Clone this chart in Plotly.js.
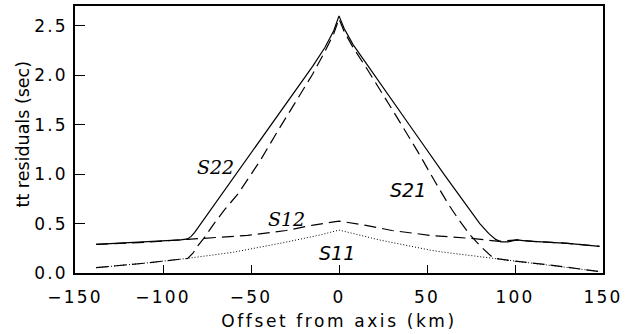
<!DOCTYPE html>
<html>
<head>
<meta charset="utf-8">
<script src="https://cdn.plot.ly/plotly-3.0.1.min.js"></script>
<style>
  html, body { margin: 0; padding: 0; background: #fff; }
  #plot { width: 625px; height: 334px; }
  #plot .xtick text, #plot .ytick text { letter-spacing: 2.2px; }
  #plot text.xtitle { letter-spacing: 2.6px; }
</style>
</head>
<body>
<div id="plot"></div>
<script>
// S22 (solid)
const s22X = [-138, -120, -100, -90, -86, -84, -82, -78, -72, -65, -55, -45, -35, -25, -15, -8, -3, 0, 3, 8, 15, 30, 45, 60, 72, 80, 85, 89, 92, 96, 101, 106, 115, 130, 148];
const s22Y = [0.29, 0.305, 0.32, 0.335, 0.345, 0.37, 0.41, 0.51, 0.66, 0.84, 1.09, 1.34, 1.59, 1.84, 2.09, 2.28, 2.45, 2.60, 2.47, 2.31, 2.13, 1.75, 1.37, 0.99, 0.69, 0.50, 0.40, 0.34, 0.315, 0.315, 0.335, 0.325, 0.315, 0.30, 0.27];
// S21 (dashed, steep)
const s21X = [-138, -110, -86, -83, -80, -76, -71, -65, -57.4, -45, -35, -25, -15, -8, -3, 0, 3, 8, 15.7, 30, 45, 55, 62, 68, 74.7, 81, 87.7, 100, 120, 148];
const s21Y = [0.054, 0.10, 0.148, 0.20, 0.28, 0.37, 0.50, 0.64, 0.80, 1.13, 1.43, 1.72, 2.01, 2.24, 2.42, 2.57, 2.44, 2.28, 2.07, 1.66, 1.22, 0.91, 0.70, 0.54, 0.38, 0.26, 0.15, 0.12, 0.08, 0.015];
// S12 (dashed, low)
const s12X = [-138, -110, -86, -52, -30, -14.6, 0, 14.6, 30, 52, 75, 91, 101, 110, 130, 148];
const s12Y = [0.29, 0.31, 0.34, 0.38, 0.43, 0.485, 0.525, 0.485, 0.43, 0.38, 0.35, 0.32, 0.335, 0.32, 0.30, 0.27];
// S11 (dotted)
const s11X = [-138, -110, -86, -60, -33.5, -10.8, 0, 10, 23.3, 51.7, 57.4, 87.7, 100, 120, 148];
const s11Y = [0.054, 0.10, 0.148, 0.21, 0.30, 0.384, 0.434, 0.39, 0.333, 0.232, 0.215, 0.148, 0.12, 0.08, 0.015];

const labels = ["S22", "S21", "S12", "S11"];
const labelX = [-69.9, 39.2, -30.1, -0.9];
const labelY = [1.07, 0.84, 0.55, 0.207];

const xTicks = [-150, -100, -50, 0, 50, 100, 150];
const yTicks = [0.0, 0.5, 1.0, 1.5, 2.0, 2.5];

const traces = [
  {x: s22X, y: s22Y, mode: 'lines', line: {color: '#000', width: 1.2, dash: 'solid'}},
  {x: s21X, y: s21Y, mode: 'lines', line: {color: '#000', width: 1.2, dash: '12px,6px'}},
  {x: s12X, y: s12Y, mode: 'lines', line: {color: '#000', width: 1.2, dash: '12px,6px'}},
  {x: s11X, y: s11Y, mode: 'lines', line: {color: '#000', width: 1, dash: '1px,2px'}}
];

const labelFonts = ['DejaVu Serif', 'DejaVu Sans', 'DejaVu Serif', 'DejaVu Sans'];
const annotations = labels.map((t, i) => ({
  x: labelX[i], y: labelY[i], xref: 'x', yref: 'y', text: '<i>' + t + '</i>',
  showarrow: false, font: {family: labelFonts[i], size: 19, color: '#000'}
}));
// y-axis title drawn as a rotated annotation so its position can be pinned
annotations.push({
  x: -0.098, y: 0.52, xref: 'paper', yref: 'paper', xanchor: 'center', yanchor: 'middle',
  text: 'tt residuals (sec)', textangle: -90, showarrow: false,
  font: {family: 'DejaVu Sans', size: 17.5, color: '#000'}
});

const layout = {
  width: 625, height: 334,
  margin: {l: 75, r: 22, t: 6, b: 61},
  paper_bgcolor: '#fff', plot_bgcolor: '#fff',
  showlegend: false,
  font: {family: 'DejaVu Sans', size: 17, color: '#000'},
  xaxis: {
    range: [-150, 150], tickvals: xTicks, ticktext: xTicks.map(v => v < 0 ? '\u2212' + Math.abs(v) : String(v)),
    ticks: 'inside', ticklen: 8, tickwidth: 1, tickcolor: '#000',
    showline: true, linecolor: '#000', linewidth: 1.8, mirror: true,
    showgrid: false, zeroline: false, ticklabelstandoff: 8,
    title: {text: 'Offset from axis (km)', font: {size: 17}, standoff: 9}
  },
  yaxis: {
    range: [0, 2.7], tickvals: yTicks, ticktext: yTicks.map(v => v.toFixed(1)),
    ticks: 'inside', ticklen: 10, tickwidth: 1, tickcolor: '#000',
    showline: true, linecolor: '#000', linewidth: 1.8, mirror: true,
    showgrid: false, zeroline: false, ticklabelstandoff: 2
  },
  annotations: annotations
};

Plotly.newPlot('plot', traces, layout, {displayModeBar: false, staticPlot: true});
</script>
</body>
</html>
